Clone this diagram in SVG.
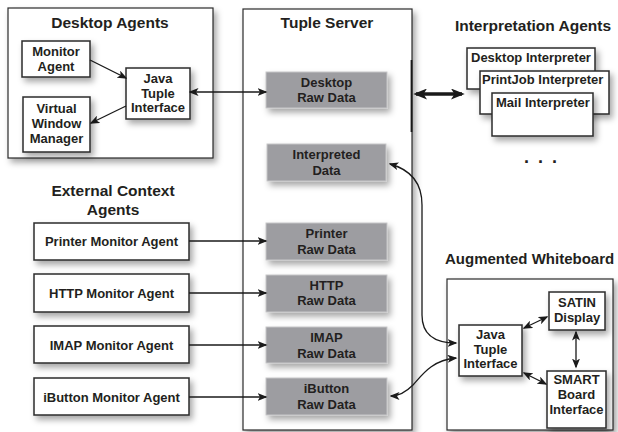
<svg xmlns="http://www.w3.org/2000/svg" width="618" height="432" viewBox="0 0 618 432">
<defs>
<style>
.t{font-family:"Liberation Sans",Arial,sans-serif;font-weight:bold;fill:#231f20;text-anchor:middle}
.s{text-anchor:start}
.title{font-size:15.5px}
.lbl{font-size:13px}
.box{fill:#fff;stroke:#2b2b2b;stroke-width:1.5}
.grp{fill:#fff;stroke:#2b2b2b;stroke-width:1.2}
.raw{fill:#9d9da1;stroke:#c6c6c8;stroke-width:1}
.c{fill:none;stroke:#1a1a1a;stroke-width:1.3}
.ar{marker-end:url(#ah)}
.ar2{marker-start:url(#ah);marker-end:url(#ah)}
</style>
<filter id="sh" x="-20%" y="-20%" width="150%" height="160%">
<feDropShadow dx="3" dy="4" stdDeviation="3" flood-color="#000" flood-opacity="0.35"/>
</filter>
<marker id="ah" viewBox="0 0 10 8" refX="8.5" refY="4" markerWidth="10" markerHeight="8" markerUnits="userSpaceOnUse" orient="auto-start-reverse">
<path d="M0,0 L10,4 L0,8 L2.5,4 z" fill="#1a1a1a"/>
</marker>
<marker id="ahb" viewBox="0 0 10 8" refX="8" refY="4" markerWidth="14" markerHeight="11" markerUnits="userSpaceOnUse" orient="auto-start-reverse">
<path d="M0,0 L10,4 L0,8 L2.5,4 z" fill="#1a1a1a"/>
</marker>
</defs>
<rect width="618" height="432" fill="#fff"/>

<g id="desktop-agents">
<rect class="grp" x="8" y="8" width="205" height="150" filter="url(#sh)"/>
<text class="t title" x="110" y="28">Desktop Agents</text>
</g>
<g id="tuple-server">
<rect class="grp" x="243" y="9" width="169" height="421" filter="url(#sh)"/>
<line x1="411.5" y1="60" x2="411.5" y2="132" stroke="#1a1a1a" stroke-width="1.8"/>
<text class="t title" x="327" y="28">Tuple Server</text>
</g>
<g id="augmented-whiteboard">
<rect class="grp" x="447" y="279" width="166" height="151" filter="url(#sh)"/>
<text class="t s" x="445" y="264" font-size="15">Augmented Whiteboard</text>
</g>

<g id="monitor-agent">
<rect class="box" x="22" y="41" width="68" height="36" filter="url(#sh)"/>
<text class="t lbl" x="56" y="56">Monitor</text>
<text class="t lbl" x="56" y="71">Agent</text>
</g>
<g id="virtual-window-manager">
<rect class="box" x="23" y="97" width="67" height="55" filter="url(#sh)"/>
<text class="t lbl" x="56.5" y="113">Virtual</text>
<text class="t lbl" x="56.5" y="128">Window</text>
<text class="t lbl" x="56.5" y="143">Manager</text>
</g>
<g id="java-tuple-desktop">
<rect class="box" x="126" y="68" width="64" height="51" filter="url(#sh)"/>
<text class="t lbl" x="158" y="83">Java</text>
<text class="t lbl" x="158" y="98">Tuple</text>
<text class="t lbl" x="158" y="112">Interface</text>
</g>

<g id="desktop-raw-data">
<rect class="raw" x="266" y="72" width="121" height="36" filter="url(#sh)"/>
<text class="t lbl" x="326.5" y="87">Desktop</text>
<text class="t lbl" x="326.5" y="102">Raw Data</text>
</g>
<g id="interpreted-data">
<rect class="raw" x="267" y="144" width="119" height="37" filter="url(#sh)"/>
<text class="t lbl" x="326.5" y="159">Interpreted</text>
<text class="t lbl" x="326.5" y="175">Data</text>
</g>
<g id="printer-raw-data">
<rect class="raw" x="266" y="223" width="121" height="37" filter="url(#sh)"/>
<text class="t lbl" x="326.5" y="238">Printer</text>
<text class="t lbl" x="326.5" y="254">Raw Data</text>
</g>
<g id="http-raw-data">
<rect class="raw" x="266" y="275" width="121" height="37" filter="url(#sh)"/>
<text class="t lbl" x="326.5" y="290">HTTP</text>
<text class="t lbl" x="326.5" y="305">Raw Data</text>
</g>
<g id="imap-raw-data">
<rect class="raw" x="266" y="327" width="121" height="36" filter="url(#sh)"/>
<text class="t lbl" x="326.5" y="342">IMAP</text>
<text class="t lbl" x="326.5" y="358">Raw Data</text>
</g>
<g id="ibutton-raw-data">
<rect class="raw" x="266" y="378" width="121" height="37" filter="url(#sh)"/>
<text class="t lbl" x="326.5" y="393">iButton</text>
<text class="t lbl" x="326.5" y="409">Raw Data</text>
</g>

<g id="external-context-agents">
<text class="t title" x="113" y="196">External Context</text>
<text class="t title" x="113" y="215">Agents</text>
</g>
<g id="printer-monitor-agent">
<rect class="box" x="34" y="223" width="155" height="37" filter="url(#sh)"/>
<text class="t lbl" x="111.5" y="246">Printer Monitor Agent</text>
</g>
<g id="http-monitor-agent">
<rect class="box" x="34" y="274" width="155" height="38" filter="url(#sh)"/>
<text class="t lbl" x="111.5" y="298">HTTP Monitor Agent</text>
</g>
<g id="imap-monitor-agent">
<rect class="box" x="34" y="326" width="155" height="37" filter="url(#sh)"/>
<text class="t lbl" x="111.5" y="350">IMAP Monitor Agent</text>
</g>
<g id="ibutton-monitor-agent">
<rect class="box" x="34" y="378" width="155" height="37" filter="url(#sh)"/>
<text class="t lbl" x="111.5" y="402">iButton Monitor Agent</text>
</g>

<g id="interpretation-agents">
<text class="t title" x="533" y="31">Interpretation Agents</text>
<text class="t s" x="524 538 552" y="163" font-size="18">...</text>
</g>
<g id="desktop-interpreter">
<rect class="box" x="467" y="48" width="128" height="41" filter="url(#sh)"/>
<text class="t lbl s" x="471" y="62">Desktop Interpreter</text>
</g>
<g id="printjob-interpreter">
<rect class="box" x="480" y="71" width="129" height="43" filter="url(#sh)"/>
<text class="t lbl s" x="482" y="84">PrintJob Interpreter</text>
</g>
<g id="mail-interpreter">
<rect class="box" x="492" y="93" width="101" height="43" filter="url(#sh)"/>
<text class="t lbl s" x="496" y="107">Mail Interpreter</text>
</g>

<g id="java-tuple-whiteboard">
<rect class="box" x="459" y="325" width="63" height="51" filter="url(#sh)"/>
<text class="t lbl" x="490.5" y="339">Java</text>
<text class="t lbl" x="490.5" y="354">Tuple</text>
<text class="t lbl" x="490.5" y="368">Interface</text>
</g>
<g id="satin-display">
<rect class="box" x="549" y="292" width="56" height="38" filter="url(#sh)"/>
<text class="t lbl" x="577" y="307">SATIN</text>
<text class="t lbl" x="577" y="322">Display</text>
</g>
<g id="smart-board-interface">
<rect class="box" x="547" y="371" width="59" height="57" filter="url(#sh)"/>
<text class="t lbl" x="576.5" y="384">SMART</text>
<text class="t lbl" x="576.5" y="399">Board</text>
<text class="t lbl" x="576.5" y="414">Interface</text>
</g>

<g id="connectors">
<path class="c ar" d="M90,60 L126,78"/>
<path class="c ar" d="M126,106 L91,123"/>
<path class="c ar2" d="M190,92 L266,92"/>
<path class="c ar" d="M189,241 L266,241"/>
<path class="c ar" d="M189,293 L266,293"/>
<path class="c ar" d="M189,345 L266,345"/>
<path class="c ar" d="M189,397 L266,397"/>
<path fill="none" stroke="#1a1a1a" stroke-width="3.5" marker-start="url(#ahb)" marker-end="url(#ahb)" d="M416,94 L462,94"/>
<path class="c ar2" d="M390,164 C412,170 422,185 422,205 L422,315 C422,335 435,343 456,343"/>
<path class="c ar2" d="M456,358 C432,360 422,375 413,385 C405,393 399,396 391,396"/>
<path class="c ar2" d="M524,328 L547,317"/>
<path class="c ar2" d="M576,332 L576,367"/>
<path class="c ar2" d="M524,373 L546,384"/>
</g>
</svg>
